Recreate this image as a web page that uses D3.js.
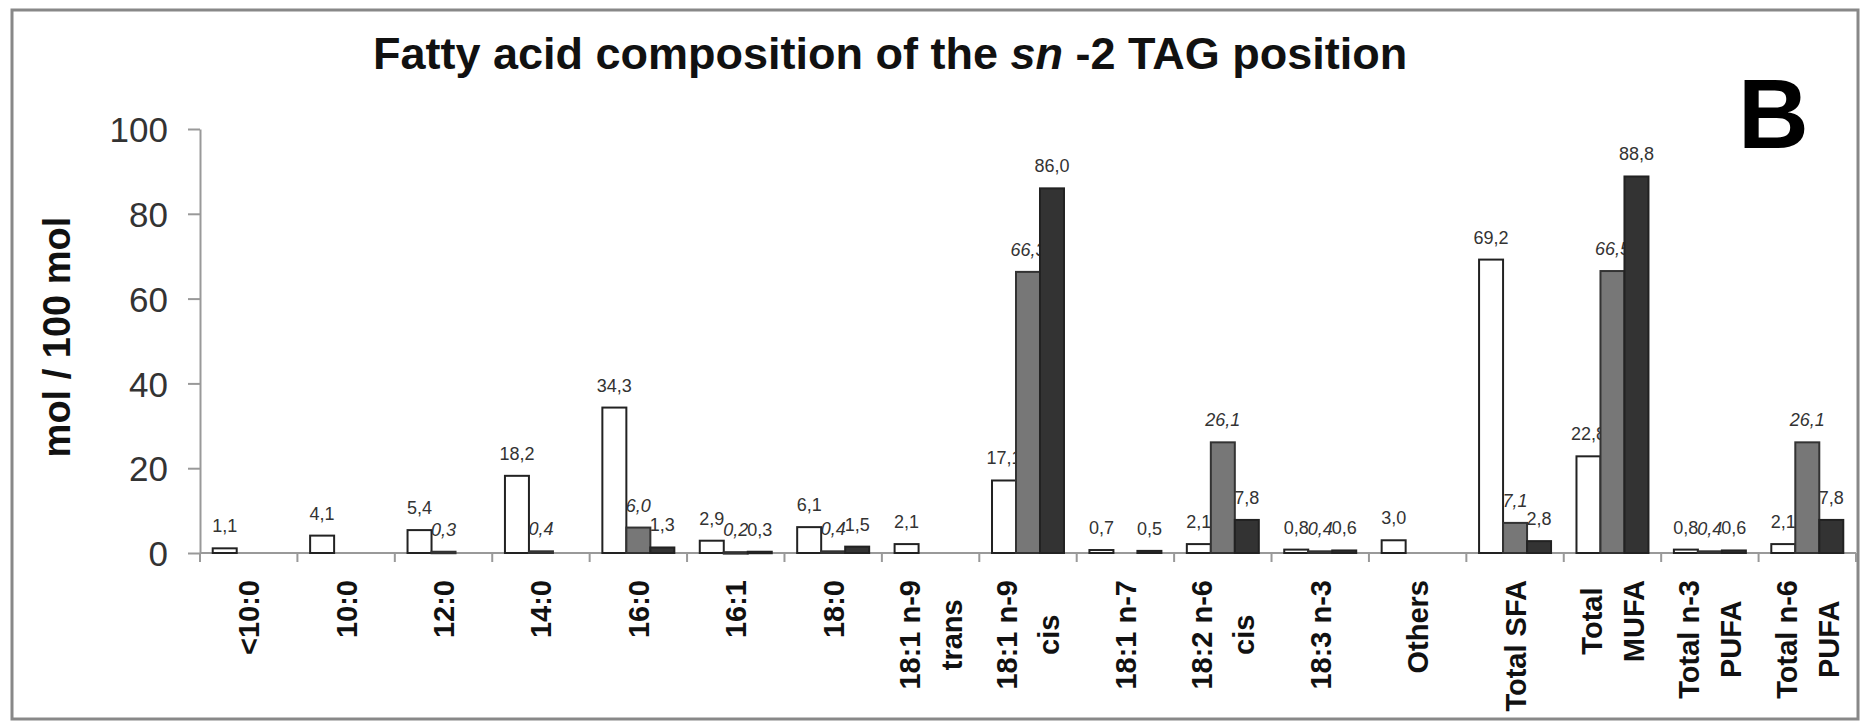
<html>
	<head>
		<script src="https://d3js.org/d3.v7.min.js"></script>
		<style>
			body { margin: 0; background: #fff; }
			svg { font-family: Arial, "Liberation Sans", sans-serif; }
		</style>
	</head>
	<body>
		<svg id="chart" width="1865" height="724"></svg>
		<script type="text/javascript">

		// categories, one entry per line of the rotated label
		var categories = [
			["<10:0"], ["10:0"], ["12:0"], ["14:0"], ["16:0"], ["16:1"], ["18:0"],
			["18:1 n-9", "trans"], ["18:1 n-9", "cis"], ["18:1 n-7"], ["18:2 n-6", "cis"],
			["18:3 n-3"], ["Others"], ["Total SFA"], ["Total", "MUFA"],
			["Total n-3", "PUFA"], ["Total n-6", "PUFA"]
		];

		// three series (null = no bar)
		var whiteValues = [1.1, 4.1, 5.4, 18.2, 34.3, 2.9, 6.1, 2.1, 17.1, 0.7, 2.1, 0.8, 3.0, 69.2, 22.8, 0.8, 2.1];
		var grayValues  = [null, null, 0.3, 0.4, 6.0, 0.2, 0.4, null, 66.3, null, 26.1, 0.4, null, 7.1, 66.5, 0.4, 26.1];
		var darkValues  = [null, null, null, null, 1.3, 0.3, 1.5, null, 86.0, 0.5, 7.8, 0.6, null, 2.8, 88.8, 0.6, 7.8];

		var yTicks = [0, 20, 40, 60, 80, 100];

		(function(){

			var series = [
				{values: whiteValues, fill: "#ffffff", stroke: "#222", italic: false},
				{values: grayValues,  fill: "#777777", stroke: "#333", italic: true},
				{values: darkValues,  fill: "#333333", stroke: "#222", italic: false}
			];

			var svg = d3.select("#chart");

			// outer frame
			svg.append("rect")
				.attr("x", 12).attr("y", 10)
				.attr("width", 1846).attr("height", 709)
				.style("fill", "none")
				.style("stroke", "#888")
				.style("stroke-width", 3);

			var plotLeft = 200, plotRight = 1856, plotTop = 129, plotBottom = 553;

			var x = d3.scaleBand()
				.domain(d3.range(categories.length))
				.range([plotLeft, plotRight]);

			var xSub = d3.scaleBand()
				.domain([0, 1, 2])
				.range([0, x.bandwidth()])
				.paddingOuter(0.53);

			var y = d3.scaleLinear()
				.domain([0, 100])
				.range([plotBottom, plotTop]);

			// title
			var title = svg.append("text")
				.attr("x", 373).attr("y", 69)
				.style("font-size", "45px")
				.style("font-weight", "bold")
				.style("fill", "#111");
			title.append("tspan").text("Fatty acid composition of the ");
			title.append("tspan").style("font-style", "italic").text("sn");
			title.append("tspan").text(" -2 TAG position");

			// panel letter
			svg.append("text")
				.attr("x", 1738).attr("y", 148)
				.style("font-size", "98px")
				.style("font-weight", "bold")
				.style("fill", "#000")
				.text("B");

			// y axis
			var yAxis = d3.axisLeft(y)
				.tickValues(yTicks)
				.tickSize(12)
				.tickPadding(20)
				.tickSizeOuter(0);

			var gy = svg.append("g")
				.attr("transform", "translate(" + plotLeft + ",0)")
				.call(yAxis);
			gy.select(".domain").style("stroke", "#999").style("stroke-width", 2);
			gy.selectAll(".tick line").style("stroke", "#999").style("stroke-width", 2);
			gy.selectAll(".tick text")
				.style("font-size", "35px")
				.style("fill", "#333")
				.style("font-family", "Arial, 'Liberation Sans', sans-serif")
				.attr("dy", "0.36em");

			svg.append("text")
				.attr("transform", "translate(70,337) rotate(-90)")
				.attr("text-anchor", "middle")
				.style("font-size", "38px")
				.style("font-weight", "bold")
				.style("fill", "#111")
				.text("mol / 100 mol");

			// x axis line and boundary ticks
			var bounds = d3.range(categories.length + 1).map(function(i){
				return i < categories.length ? x(i) : plotRight;
			});
			svg.append("line")
				.attr("x1", plotLeft).attr("x2", plotRight)
				.attr("y1", plotBottom).attr("y2", plotBottom)
				.style("stroke", "#999")
				.style("stroke-width", 2);
			svg.selectAll(".xtick").data(bounds).enter().append("line")
				.attr("class", "xtick")
				.attr("x1", function(d){return d;})
				.attr("x2", function(d){return d;})
				.attr("y1", plotBottom)
				.attr("y2", plotBottom + 9)
				.style("stroke", "#999")
				.style("stroke-width", 2);

			// bars
			series.forEach(function(s, si){
				var pts = s.values.map(function(v, i){ return {i: i, v: v}; })
					.filter(function(d){ return d.v !== null; });

				svg.selectAll(".bar" + si).data(pts).enter().append("rect")
					.attr("class", "bar" + si)
					.attr("x", function(d){ return x(d.i) + xSub(si); })
					.attr("y", function(d){ return y(d.v); })
					.attr("width", xSub.bandwidth())
					.attr("height", function(d){ return Math.max(plotBottom - y(d.v), 1.5); })
					.style("fill", s.fill)
					.style("stroke", s.stroke)
					.style("stroke-width", 2);

				svg.selectAll(".lbl" + si).data(pts).enter().append("text")
					.attr("class", "lbl" + si)
					.attr("x", function(d){ return x(d.i) + xSub(si) + xSub.bandwidth() / 2; })
					.attr("y", function(d){ return y(d.v) - 16; })
					.attr("text-anchor", "middle")
					.style("font-size", "18px")
					.style("font-style", s.italic ? "italic" : "normal")
					.style("fill", "#333")
					.text(function(d){ return d.v.toFixed(1).replace(".", ","); });
			});

			// category labels, rotated, lines centred on the longest one
			var labelTop = 580, lineGap = 42, labelSize = 29;
			var measure = svg.append("text")
				.style("font-size", labelSize + "px")
				.style("font-weight", "bold");

			categories.forEach(function(lines, i){
				var longest = d3.max(lines, function(t){
					measure.text(t);
					return measure.node().getComputedTextLength();
				});
				var cy = labelTop + longest / 2;
				var cx = x(i) + x.bandwidth() / 2;
				lines.forEach(function(t, k){
					var lx = cx + (k - (lines.length - 1) / 2) * lineGap;
					svg.append("text")
						.attr("transform", "translate(" + lx + "," + cy + ") rotate(-90)")
						.attr("text-anchor", "middle")
						.attr("dy", "0.36em")
						.style("font-size", labelSize + "px")
						.style("font-weight", "bold")
						.style("fill", "#111")
						.text(t);
				});
			});
			measure.remove();

		})();
		</script>
	</body>
</html>
